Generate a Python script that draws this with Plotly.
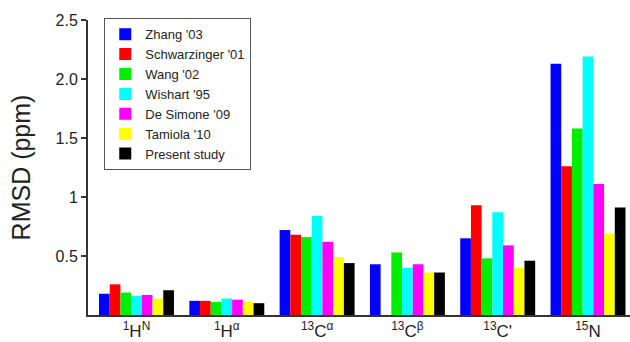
import plotly.graph_objects as go

# Nuclei on the x axis
categories = [
    "<sup>1</sup>H<sup>N</sup>",
    "<sup>1</sup>H<sup>α</sup>",
    "<sup>13</sup>C<sup>α</sup>",
    "<sup>13</sup>C<sup>β</sup>",
    "<sup>13</sup>C'",
    "<sup>15</sup>N",
]

# RMSD (ppm) per predictor
zhang_03 = [0.18, 0.12, 0.72, 0.43, 0.65, 2.13]
schwarzinger_01 = [0.26, 0.12, 0.68, None, 0.93, 1.26]
wang_02 = [0.19, 0.11, 0.66, 0.53, 0.48, 1.58]
wishart_95 = [0.16, 0.14, 0.84, 0.40, 0.87, 2.19]
desimone_09 = [0.17, 0.13, 0.62, 0.43, 0.59, 1.11]
tamiola_10 = [0.14, 0.11, 0.49, 0.36, 0.40, 0.69]
present_study = [0.21, 0.10, 0.44, 0.36, 0.46, 0.91]

series_names = ["Zhang '03", "Schwarzinger '01", "Wang '02", "Wishart '95",
                "De Simone '09", "Tamiola '10", "Present study"]
series_values = [zhang_03, schwarzinger_01, wang_02, wishart_95,
                 desimone_09, tamiola_10, present_study]
series_colors = ["#0000FF", "#FF0000", "#00EE00", "#00FFFF",
                 "#FF00FF", "#FFFF00", "#000000"]

y_tick_vals = [0.5, 1.0, 1.5, 2.0, 2.5]
y_tick_text = ["0.5", "1", "1.5", "2.0", "2.5"]

font_family = "Liberation Sans, Arial, sans-serif"

fig = go.Figure()
for name, vals, color in zip(series_names, series_values, series_colors):
    fig.add_trace(go.Bar(
        x=list(range(len(categories))),
        y=vals,
        name=name,
        marker=dict(color=color, line=dict(width=0)),
    ))

fig.update_layout(
    width=630,
    height=342,
    margin=dict(l=88, r=0, t=20, b=27),
    paper_bgcolor="white",
    plot_bgcolor="white",
    barmode="group",
    bargap=0.17,
    bargroupgap=0,
    font=dict(family=font_family, color="#222222"),
    showlegend=True,
    legend=dict(
        x=0.03, y=1.006, xanchor="left", yanchor="top",
        bordercolor="#555555", borderwidth=1, bgcolor="white",
        font=dict(size=13, family=font_family, color="#222222"),
        itemsizing="constant",
        tracegroupgap=0,
    ),
    xaxis=dict(
        range=[-0.537, 5.465],
        tickmode="array",
        tickvals=list(range(len(categories))),
        ticktext=categories,
        showline=True, linecolor="#333333", linewidth=2,
        ticks="", showgrid=False, zeroline=False,
        tickfont=dict(size=17, family=font_family, color="#222222"),
    ),
    yaxis=dict(
        range=[0, 2.5],
        tickmode="array",
        tickvals=y_tick_vals,
        ticktext=y_tick_text,
        showline=True, linecolor="#333333", linewidth=2,
        ticks="outside", ticklen=5, tickwidth=2, tickcolor="#333333",
        showgrid=False, zeroline=False,
        tickfont=dict(size=16, family=font_family, color="#222222"),
        title=dict(text="RMSD (ppm)", standoff=18,
                   font=dict(size=25, family=font_family, color="#222222")),
    ),
)

fig.write_html("out.html")
